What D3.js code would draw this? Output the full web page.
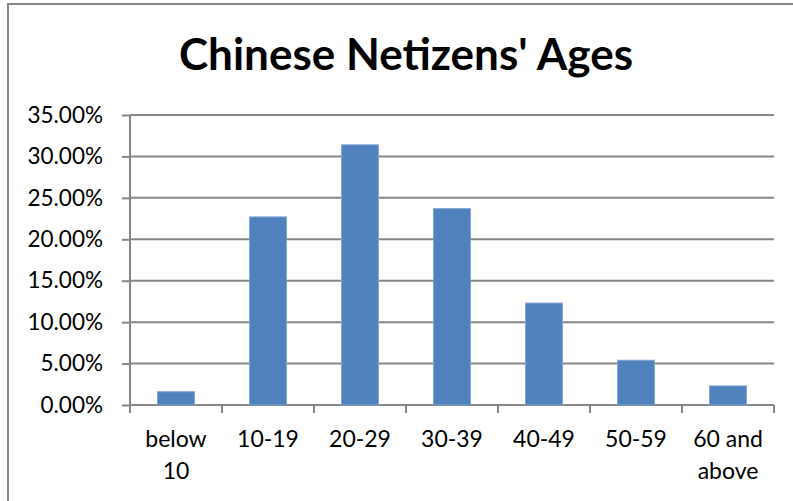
<!DOCTYPE html>
<html>
<head>
<meta charset="utf-8">
<script src="https://cdn.jsdelivr.net/npm/d3@7"></script>
<style>
  body { margin: 0; background: #fff; }
  svg { display: block; }
  text { font-family: Lato, "Open Sans", sans-serif; fill: #000; }
</style>
</head>
<body>
<div id="chart"></div>
<script>
const categories = ["below 10", "10-19", "20-29", "30-39", "40-49", "50-59", "60 and above"];
const shares = [0.016, 0.227, 0.314, 0.237, 0.123, 0.054, 0.023];
const yTicks = [0, 0.05, 0.10, 0.15, 0.20, 0.25, 0.30, 0.35];
const title = "Chinese Netizens' Ages";

const width = 793, height = 501;
const plot = { left: 130, right: 774, top: 115, bottom: 405 };
const grey = "#878787";

const svg = d3.select("#chart").append("svg")
  .attr("width", width)
  .attr("height", height);

// chart frame, runs off the right and bottom edges like the source
svg.append("rect")
  .attr("x", 8).attr("y", 4)
  .attr("width", 800).attr("height", 520)
  .attr("fill", "none")
  .attr("stroke", grey)
  .attr("stroke-width", 2);

svg.append("text")
  .attr("x", 406).attr("y", 70)
  .attr("text-anchor", "middle")
  .attr("font-size", 44)
  .attr("font-weight", "bold")
  .text(title);

const x = d3.scaleBand()
  .domain(categories)
  .range([plot.left, plot.right])
  .paddingInner(0.6)
  .paddingOuter(0.3);

const y = d3.scaleLinear()
  .domain([0, 0.35])
  .range([plot.bottom, plot.top]);

// gridlines + y axis
const yAxis = svg.append("g")
  .attr("transform", `translate(${plot.left},0)`)
  .call(d3.axisLeft(y).tickValues(yTicks).tickFormat(d3.format(".2%")).tickSize(8).tickPadding(19));
yAxis.select(".domain").attr("stroke", grey).attr("stroke-width", 2)
  .attr("d", `M0,${plot.top}V${plot.bottom + 8}`);
yAxis.selectAll(".tick line").attr("stroke", grey).attr("stroke-width", 2);
yAxis.selectAll(".tick text").attr("font-size", 22.5).attr("font-family", "Lato, sans-serif").attr("fill", "#000");

svg.append("g")
  .selectAll("line")
  .data(yTicks)
  .join("line")
  .attr("x1", plot.left).attr("x2", plot.right)
  .attr("y1", d => y(d)).attr("y2", d => y(d))
  .attr("stroke", grey)
  .attr("stroke-width", 2);

// bars
svg.append("g")
  .selectAll("rect")
  .data(shares)
  .join("rect")
  .attr("x", (d, i) => x(categories[i]))
  .attr("y", d => y(d))
  .attr("width", x.bandwidth())
  .attr("height", d => y(0) - y(d))
  .attr("fill", "#4F81BD")
  .attr("stroke", "#7ea2d2")
  .attr("stroke-width", 1);

// x axis: ticks sit on band boundaries
const xAxis = svg.append("g")
  .attr("transform", `translate(0,${plot.bottom})`);
const bounds = categories.map(c => x(c) - x.step() * 0.3).concat([plot.right]);
xAxis.selectAll("line")
  .data(bounds)
  .join("line")
  .attr("x1", d => d).attr("x2", d => d)
  .attr("y1", 0).attr("y2", 8)
  .attr("stroke", grey)
  .attr("stroke-width", 2);

const labels = xAxis.selectAll("text")
  .data(categories)
  .join("text")
  .attr("x", d => x(d) + x.bandwidth() / 2)
  .attr("y", 42)
  .attr("text-anchor", "middle")
  .attr("font-size", 23);

// wrap long category names the way the spreadsheet did
labels.each(function (d) {
  const t = d3.select(this);
  const words = d.split(" ");
  const maxW = x.step() * 0.82;
  let line = [], lines = [];
  words.forEach(w => {
    const test = line.concat(w).join(" ");
    t.text(test);
    if (line.length && this.getComputedTextLength() > maxW) {
      lines.push(line.join(" "));
      line = [w];
    } else {
      line.push(w);
    }
  });
  lines.push(line.join(" "));
  t.text(null);
  lines.forEach((l, i) => {
    t.append("tspan")
      .attr("x", x(d) + x.bandwidth() / 2)
      .attr("dy", i ? 32 : 0)
      .text(l);
  });
});
</script>
</body>
</html>
